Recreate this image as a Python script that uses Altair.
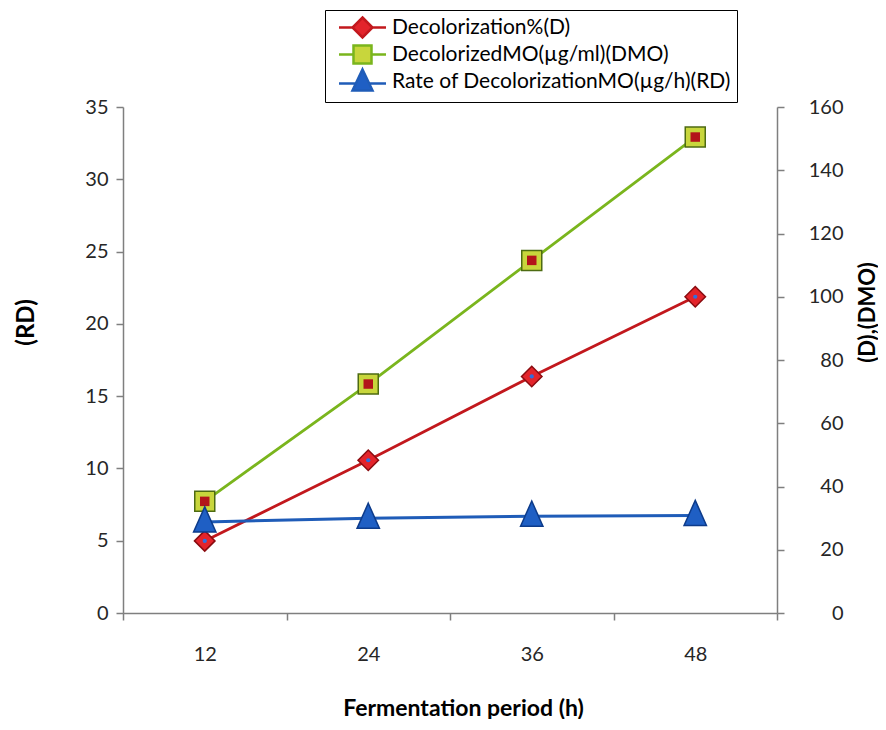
import altair as alt
import pandas as pd

time_h = ["12", "24", "36", "48"]
decolorization_pct = [22.8, 48.3, 74.8, 100.0]
decolorized_mo = [35.3, 72.4, 111.5, 150.5]
rate_decolorization = [6.3, 6.55, 6.7, 6.75]

series_names = [
    "Decolorization%(D)",
    "DecolorizedMO(µg/ml)(DMO)",
    "Rate of DecolorizationMO(µg/h)(RD)",
]
line_colors = ["#c2181d", "#7ab51d", "#1f5cb8"]
marker_fills = ["#e3242b", "#c8d63c", "#1f5fc4"]
marker_strokes = ["#8a0c10", "#4d6b12", "#0d3b8a"]
legend_paths = [
    "M-2.35,0H-1M1,0H2.35M0,-1L1,0L0,1L-1,0Z",
    "M-2.35,0H-0.9M0.9,0H2.35M-0.9,-0.9H0.9V0.9H-0.9Z",
    "M-2.35,0.2H-0.67M0.67,0.2H2.35M0,-1.2L1,0.9L-1,0.9Z",
]
triangle_path = "M0,-1.35L1,0.9L-1,0.9Z"

rows = []
for s, vals in zip(series_names, [decolorization_pct, decolorized_mo, rate_decolorization]):
    for t, v in zip(time_h, vals):
        rows.append({"time": t, "series": s, "value": v})
df = pd.DataFrame(rows)

FONT = "Lato"
AX = "#7f7f7f"

x_enc = alt.X(
    "time:O", sort=time_h,
    scale=alt.Scale(type="band", paddingInner=0, paddingOuter=0),
    axis=alt.Axis(title="Fermentation period (h)", labelAngle=0, tickBand="extent",
                  tickSize=7, labelPadding=24, titlePadding=33, titleX=340,
                  titleFontSize=23, grid=False),
)
y_right = alt.Y(
    "value:Q", scale=alt.Scale(domain=[0, 160], nice=False),
    axis=alt.Axis(orient="right", values=list(range(0, 161, 20)), title="(D),(DMO)",
                  tickSize=7, labelAlign="right", labelPadding=59, titleAngle=270,
                  titleX=90, titleY=205, titleBaseline="middle", titleAlign="center",
                  titleFontSize=22, grid=False),
)
y_left = alt.Y(
    "value:Q", scale=alt.Scale(domain=[0, 35], nice=False),
    axis=alt.Axis(orient="left", values=list(range(0, 36, 5)), title="(RD)",
                  tickSize=7, labelPadding=8, titleAngle=270,
                  titleX=-97, titleY=215, titleBaseline="middle", titleAlign="center",
                  titleFontSize=24, grid=False),
)

base = alt.Chart(df)


def sel(i):
    return base.transform_filter(alt.datum.series == series_names[i])


d_line = sel(0).mark_line(color=line_colors[0], strokeWidth=2.8).encode(x=x_enc, y=y_right)
d_pts = sel(0).mark_point(shape="diamond", filled=True, size=420, opacity=1,
                          fill=marker_fills[0], stroke=marker_strokes[0], strokeWidth=1.5).encode(x=x_enc, y=y_right)
d_in = sel(0).mark_point(shape="circle", filled=True, size=18, opacity=1,
                         fill="#2f6fe0").encode(x=x_enc, y=y_right)

m_line = sel(1).mark_line(color=line_colors[1], strokeWidth=2.8).encode(x=x_enc, y=y_right)
m_pts = sel(1).mark_point(shape="square", filled=True, size=400, opacity=1,
                          fill=marker_fills[1], stroke=marker_strokes[1], strokeWidth=1.5).encode(x=x_enc, y=y_right)
m_in = sel(1).mark_point(shape="square", filled=True, size=90, opacity=1,
                         fill="#b3141a").encode(x=x_enc, y=y_right)

leg = alt.Legend(title=None, orient="none", legendX=202, legendY=-97, direction="vertical",
                 strokeColor="#000", padding=6, symbolSize=400, symbolStrokeWidth=2.5,
                 symbolOpacity=1, symbolOffset=20, labelOffset=18, labelFont=FONT,
                 labelFontSize=21, labelColor="#000", labelLimit=600, rowPadding=-5)
legend_layer = base.mark_point(filled=True, opacity=0).encode(
    x=x_enc, y=y_right,
    shape=alt.Shape("series:N", scale=alt.Scale(domain=series_names, range=legend_paths), legend=leg),
    fill=alt.Fill("series:N", scale=alt.Scale(domain=series_names, range=marker_fills), legend=leg),
    stroke=alt.Stroke("series:N", scale=alt.Scale(domain=series_names, range=line_colors), legend=leg),
)

r_line = sel(2).mark_line(color=line_colors[2], strokeWidth=3).encode(x=x_enc, y=y_left)
r_pts = sel(2).mark_point(shape=triangle_path, filled=True, size=500, opacity=1,
                          fill=marker_fills[2], stroke=marker_strokes[2], strokeWidth=1.5).encode(x=x_enc, y=y_left)

right_group = alt.layer(m_line, m_pts, m_in, d_line, d_pts, d_in, legend_layer)
left_group = alt.layer(r_line, r_pts)

chart = alt.layer(right_group, left_group).resolve_scale(y="independent").properties(
    width=654, height=506,
    autosize=alt.AutoSizeParams(type="none"),
    padding={"left": 115, "top": 99, "right": 101, "bottom": 106},
    background="white",
).configure_axis(
    domainColor=AX, tickColor=AX, domainWidth=1.5, tickWidth=1.5,
    labelFont=FONT, labelFontSize=20, labelColor="#262626",
    titleFont=FONT, titleFontWeight="bold", titleColor="#000",
).configure_view(stroke=None)

chart.save("out.html", embed_options={"renderer": "svg", "actions": False})
